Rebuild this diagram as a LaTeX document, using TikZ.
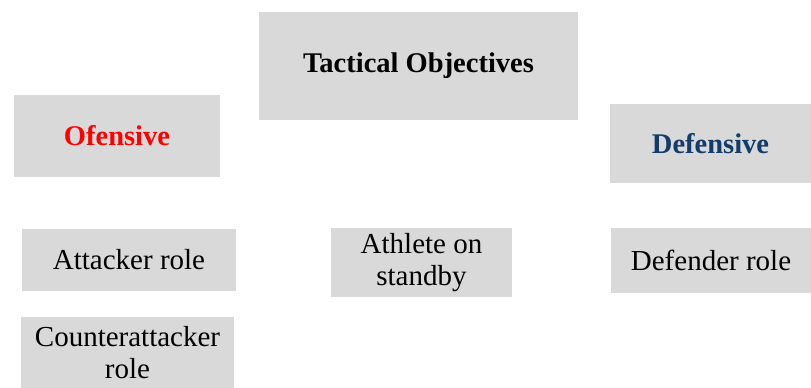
\documentclass[tikz,border=0pt]{standalone}
\usepackage{fontspec}
\setmainfont{Liberation Serif}
\definecolor{boxgray}{HTML}{D9D9D9}
\definecolor{defblue}{HTML}{123D6A}
\begin{document}
\begin{tikzpicture}[x=1pt,y=1pt,
  box/.style={fill=boxgray,draw=none,inner sep=0pt,align=center,
    font=\fontsize{29}{32}\selectfont},
  head/.style={box,font=\fontsize{28.5}{32}\selectfont\bfseries}]
\useasboundingbox (0,0) rectangle (811,-388);
\node[head,minimum width=319,minimum height=108] (tac) at (418.5,-65.5) {Tactical Objectives};
\node[head,minimum width=206,minimum height=82,text=red] (ofe) at (117,-136) {Ofensive};
\node[head,minimum width=201,minimum height=79,text=defblue] (def) at (710.5,-143.5) {Defensive};
\node[box,minimum width=214,minimum height=62] (att) at (129,-260) {Attacker role};
\node[box,minimum width=181,minimum height=69] (ath) at (421.5,-262.5) {Athlete on\\standby};
\node[box,minimum width=200,minimum height=65] (dfr) at (711,-260.5) {Defender role};
\node[box,minimum width=213,minimum height=71] (cnt) at (127.5,-352.5) {Counterattacker\\role};
\end{tikzpicture}
\end{document}
